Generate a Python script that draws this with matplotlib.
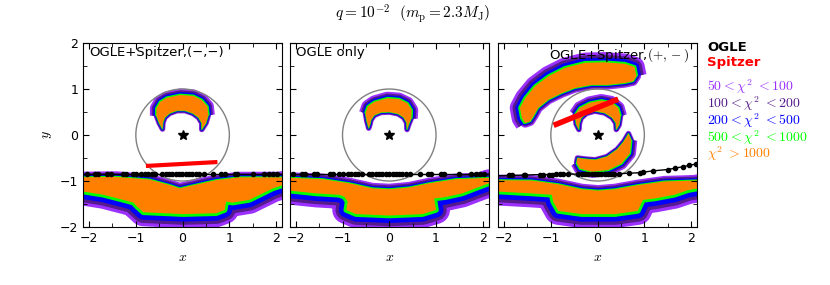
import numpy as np
import matplotlib
matplotlib.use('Agg')
import matplotlib.pyplot as plt
from matplotlib.patches import Polygon, Circle

plt.rcParams['mathtext.fontset'] = 'cm'

# chi^2 level colours, outermost first
band_colors = ['#9b30ff', '#551a8b', '#0000ff', '#00ff00']
core_color = '#ff8000'
legend_labels = [r'$50<\chi^2\ <100$', r'$100<\chi^2\ <200$', r'$200<\chi^2\ <500$',
                 r'$500<\chi^2\ <1000$', r'$\chi^2\ >1000$']
legend_colors = ['#9b30ff', '#551a8b', '#0000ff', '#00ff00', '#ff8000']

panel_titles = ['OGLE+Spitzer,(\u2212,\u2212)', 'OGLE only', r'OGLE+Spitzer,$(+,-)$']

# chi^2 > 1000 cores, outer edge then inner edge
crescent1_out = [(-0.43, 0.13), (-0.50, 0.26), (-0.56, 0.42), (-0.56, 0.58), (-0.48, 0.72),
                 (-0.34, 0.81), (-0.05, 0.87), (0.23, 0.85), (0.41, 0.76), (0.53, 0.62),
                 (0.55, 0.43), (0.50, 0.26), (0.41, 0.12)]
crescent1_in = [(0.41, 0.26), (0.34, 0.38), (0.22, 0.47), (0.05, 0.53), (-0.12, 0.53),
                (-0.28, 0.47), (-0.38, 0.38), (-0.42, 0.27)]
crescent2_out = [(-0.44, 0.15), (-0.48, 0.30), (-0.51, 0.47), (-0.46, 0.62), (-0.32, 0.72),
                 (-0.04, 0.80), (0.21, 0.78), (0.39, 0.69), (0.48, 0.54), (0.47, 0.36),
                 (0.42, 0.24), (0.38, 0.12)]
crescent2_in = [(0.37, 0.27), (0.31, 0.38), (0.19, 0.46), (0.00, 0.50), (-0.18, 0.49),
                (-0.32, 0.43), (-0.39, 0.33), (-0.41, 0.24)]
crescent3_out = [(-0.40, 0.12), (-0.46, 0.24), (-0.48, 0.44), (-0.38, 0.59), (-0.17, 0.70),
                 (0.08, 0.75), (0.29, 0.71), (0.44, 0.59), (0.49, 0.41), (0.46, 0.22),
                 (0.40, 0.12)]
crescent3_in = [(0.39, 0.26), (0.31, 0.38), (0.15, 0.48), (-0.06, 0.52), (-0.24, 0.47),
                (-0.35, 0.37), (-0.39, 0.25)]
lower3_out = [(0.66, 0.03), (0.72, -0.11), (0.69, -0.40), (0.51, -0.62), (0.23, -0.76),
              (-0.12, -0.80), (-0.38, -0.73), (-0.45, -0.60), (-0.43, -0.50)]
lower3_in = [(-0.28, -0.52), (-0.05, -0.54), (0.20, -0.47), (0.42, -0.31), (0.56, -0.14)]
arc3_out = [(-1.55, 0.26), (-1.62, 0.37), (-1.66, 0.59), (-1.55, 0.80), (-1.34, 1.06),
            (-1.05, 1.28), (-0.70, 1.46), (-0.27, 1.57), (0.15, 1.58), (0.58, 1.55),
            (0.79, 1.48), (0.83, 1.28)]
arc3_in = [(0.76, 1.17), (0.58, 1.13), (0.22, 1.09), (-0.13, 1.09), (-0.49, 1.02),
           (-0.77, 0.91), (-1.05, 0.77), (-1.27, 0.59), (-1.37, 0.41), (-1.44, 0.30)]

bottom_top1 = [(-2.4, -0.92), (-1.41, -0.91), (-0.70, -0.97), (-0.27, -1.09), (-0.06, -1.16),
               (0.15, -1.11), (0.72, -0.98), (1.21, -0.92), (2.4, -0.92)]
bottom_low1 = [(2.4, -1.05), (2.14, -1.09), (1.93, -1.16), (1.71, -1.27), (1.43, -1.41),
               (1.07, -1.47), (0.93, -1.45), (0.90, -1.63), (0.72, -1.70), (0.01, -1.72),
               (-0.84, -1.68), (-0.98, -1.55), (-1.05, -1.47), (-1.27, -1.41), (-1.69, -1.30),
               (-2.12, -1.23), (-2.4, -1.20)]
bottom_top2 = [(-2.4, -0.92), (-1.42, -0.96), (-0.85, -1.05), (-0.36, -1.16), (0.0, -1.18),
               (0.43, -1.14), (0.85, -1.05), (1.42, -0.96), (2.4, -0.92)]
bottom_low2 = [(2.4, -1.02), (2.13, -1.05), (1.84, -1.16), (1.56, -1.27), (1.20, -1.35),
               (0.96, -1.38), (1.00, -1.63), (0.71, -1.72), (0.0, -1.75), (-0.71, -1.72),
               (-0.92, -1.63), (-0.89, -1.45), (-0.96, -1.34), (-1.07, -1.30), (-1.56, -1.27),
               (-2.13, -1.21), (-2.4, -1.20)]
bottom_top3 = [(-2.4, -0.98), (-1.41, -0.99), (-0.84, -1.07), (-0.34, -1.18), (0.01, -1.21),
               (0.37, -1.18), (0.86, -1.09), (1.43, -1.01), (2.4, -0.98)]
bottom_low3 = [(2.4, -1.14), (2.14, -1.16), (1.93, -1.20), (1.64, -1.30), (1.22, -1.38),
               (0.97, -1.41), (0.86, -1.65), (0.37, -1.72), (-0.34, -1.72), (-0.84, -1.65),
               (-0.95, -1.45), (-0.98, -1.30), (-1.41, -1.27), (-2.12, -1.23), (-2.4, -1.22)]

# OGLE source trajectory and data epochs
ogle_u0 = -0.85
ogle_x = [-2.05, -1.87, -1.80, -1.62, -1.54, -1.27, -1.20, -1.07, -1.00, -0.88, -0.81,
          -0.73, -0.66, -0.59, -0.43, -0.36, -0.29, -0.22, -0.15, -0.08, -0.01, 0.07,
          0.14, 0.21, 0.28, 0.36, 0.45, 0.66, 0.83, 0.90, 1.11, 1.16, 1.50, 1.75,
          1.85, 1.94, 2.02]
ogle3_x = [-2.30, -1.90, -1.83, -1.58, -1.55, -1.23, -1.16, -1.05, -0.98, -0.88, -0.81,
           -0.73, -0.63, -0.41, -0.34, -0.27, -0.20, -0.13, -0.06, 0.01, 0.08, 0.15,
           0.22, 0.29, 0.36, 0.45, 0.68, 0.90, 0.97, 1.18, 1.50, 1.66, 1.82, 1.96, 2.10, 2.30]
ogle3_y = [-0.89, -0.88, -0.88, -0.87, -0.87, -0.86, -0.86, -0.86, -0.86, -0.85, -0.85,
           -0.85, -0.85, -0.85, -0.85, -0.85, -0.85, -0.85, -0.85, -0.85, -0.85, -0.85,
           -0.85, -0.85, -0.85, -0.84, -0.83, -0.82, -0.81, -0.78, -0.75, -0.72, -0.69,
           -0.66, -0.63, -0.60]
# Spitzer trajectory ends
spitzer1 = ([-0.74, 0.70], [-0.67, -0.59])
spitzer3 = ([-0.94, 0.44], [0.21, 0.78])

# cumulative band depth (data units) outside the core, outermost level first
d_crescent = ([0.14, 0.10, 0.065, 0.03], [0.06, 0.045, 0.03, 0.013])
d_lower = ([0.13, 0.095, 0.06, 0.028], [0.06, 0.045, 0.03, 0.013])
d_arc = ([0.22, 0.16, 0.10, 0.04], [0.10, 0.07, 0.045, 0.02])
d_bottom = ([0.30, 0.23, 0.16, 0.06], [0.12, 0.085, 0.05, 0.022])

PT_PER_UNIT = 33.5


def banded(ax, outer, inner, depths, trim=0):
    d_out, d_in = depths
    pts = outer + inner
    edge = outer[trim:len(outer) - trim]
    for c, do, di in zip(band_colors, d_out, d_in):
        ax.add_patch(Polygon(pts, closed=True, fc=c, ec=c, lw=2 * di * PT_PER_UNIT,
                             joinstyle='round'))
        ax.add_patch(Polygon(edge, closed=False, fill=False, ec=c,
                             lw=2 * do * PT_PER_UNIT, joinstyle='round', capstyle='butt'))
    ax.add_patch(Polygon(pts, closed=True, fc=core_color, ec='none'))


fig = plt.figure(figsize=(8.3, 2.85), dpi=100)
lefts = [0.100, 0.349, 0.600]
axes = [fig.add_axes([l, 0.2035, 0.240, 0.6455]) for l in lefts]

regions = [[(crescent1_out, crescent1_in, d_crescent, 2)],
           [(crescent2_out, crescent2_in, d_crescent, 2)],
           [(arc3_out, arc3_in, d_arc, 0), (crescent3_out, crescent3_in, d_crescent, 2),
            (lower3_out, lower3_in, d_lower, 1)]]
bottoms = [(bottom_top1, bottom_low1), (bottom_top2, bottom_low2), (bottom_top3, bottom_low3)]

for i, ax in enumerate(axes):
    for r in regions[i]:
        banded(ax, *r)
    top, low = bottoms[i]
    banded(ax, low, top, d_bottom)
    ax.add_patch(Circle((0, 0), 1.0, fill=False, ec='gray', lw=1))
    ax.plot(0, 0, marker='*', color='k', ms=7)
    if i < 2:
        ax.plot([-2.3, 2.3], [ogle_u0, ogle_u0], color='k', lw=1)
        ax.plot(ogle_x, [ogle_u0] * len(ogle_x), 'o', color='k', ms=3)
    else:
        ax.plot(ogle3_x, ogle3_y, '-o', color='k', lw=1, ms=3)
    if i == 0:
        ax.plot(*spitzer1, color='red', lw=3)
    elif i == 2:
        ax.plot(*spitzer3, color='red', lw=4, solid_capstyle='butt')

    ax.set_xlim(-2.13, 2.13)
    ax.set_ylim(-2, 2)
    ax.set_xticks([-2, -1, 0, 1, 2])
    ax.set_xticks(np.arange(-2, 2.01, 0.5), minor=True)
    ax.set_yticks([-2, -1, 0, 1, 2])
    ax.set_yticks(np.arange(-2, 2.01, 0.5), minor=True)
    ax.tick_params(which='both', direction='in', top=True, right=True, labelsize=9)
    ax.tick_params(which='major', length=4)
    ax.tick_params(which='minor', length=3)
    ax.set_xlabel('$x$', fontsize=10)
    if i > 0:
        ax.set_yticklabels([])
    else:
        ax.set_ylabel('$y$', fontsize=10)
    if i < 2:
        ax.text(0.03, 0.985, panel_titles[i], transform=ax.transAxes, ha='left', va='top',
                fontsize=9.5)
    else:
        ax.text(0.96, 0.985, panel_titles[i], transform=ax.transAxes, ha='right', va='top',
                fontsize=9.5)

fig.text(0.497, 0.952, r'$q=10^{-2}$  $(m_{\rm p}=2.3M_{\rm J})$', ha='center', va='center',
         fontsize=11)

fig.text(0.852, 0.835, 'OGLE', color='k', fontweight='bold', fontsize=9.5, va='center')
fig.text(0.852, 0.779, 'Spitzer', color='red', fontweight='bold', fontsize=9.5, va='center')
for k, (lab, col) in enumerate(zip(legend_labels, legend_colors)):
    fig.text(0.852, 0.695 - 0.059 * k, lab, color=col, fontsize=10, va='center')

fig.savefig('out.png', dpi=100)
